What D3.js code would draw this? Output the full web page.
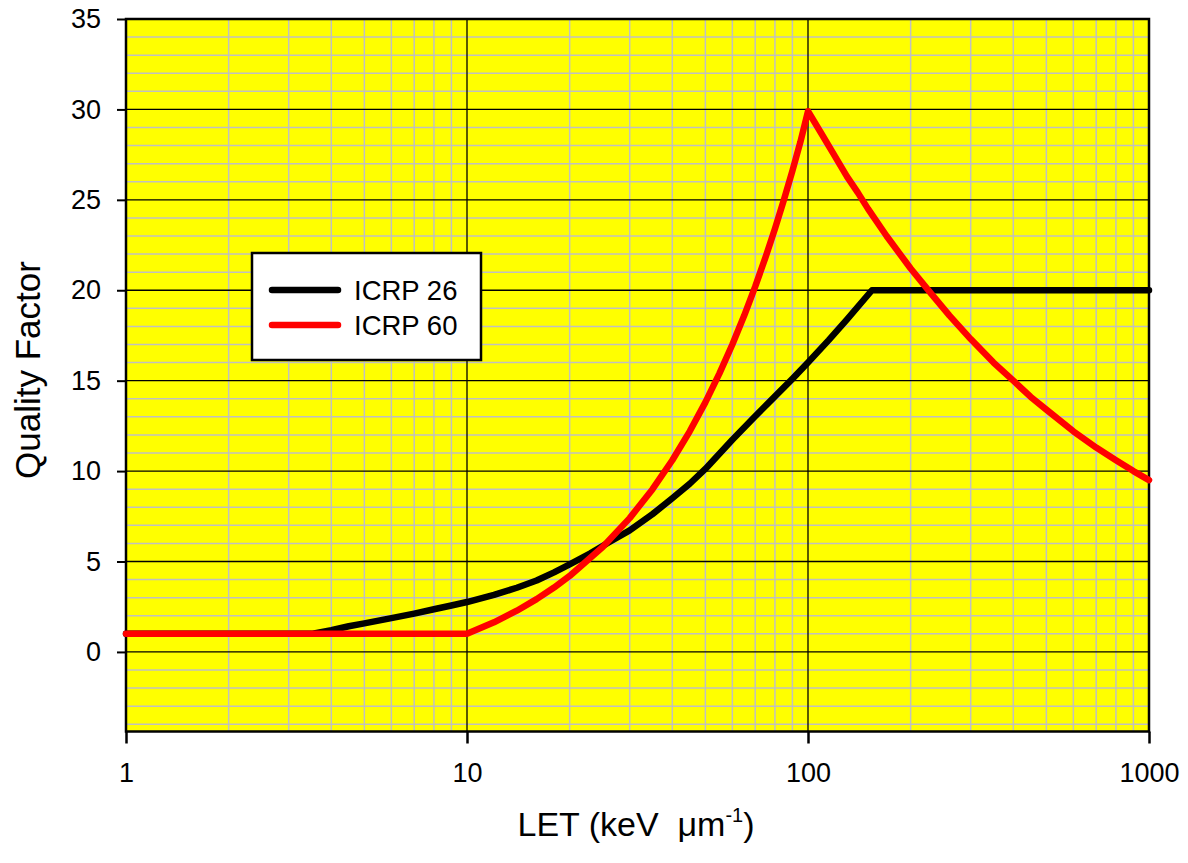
<!DOCTYPE html>
<html>
<head>
<meta charset="utf-8">
<script src="https://cdn.jsdelivr.net/npm/d3@7"></script>
<style>
  html, body { margin: 0; padding: 0; background: #ffffff; }
  svg { display: block; font-family: "Liberation Sans", Arial, sans-serif; }
</style>
</head>
<body>
<svg id="chart" width="1188" height="863"></svg>
<script>
// LET values (keV/µm) and quality factors for the two ICRP recommendations
const icrp26LET = [1, 3.5, 4, 4.5, 5, 6, 7, 8, 9, 10, 12, 14, 16, 18, 20, 23, 26, 30, 35, 40, 45, 50, 60, 70, 80, 90, 100, 115, 130, 154, 1000];
const icrp26Q   = [1, 1, 1.2, 1.42, 1.58, 1.87, 2.12, 2.36, 2.57, 2.76, 3.15, 3.55, 3.95, 4.4, 4.84, 5.45, 6.05, 6.72, 7.62, 8.5, 9.3, 10.12, 11.73, 13.03, 14.13, 15.1, 16.0, 17.24, 18.38, 20, 20];

const icrp60LET = [1, 10, 12, 14, 16, 18, 20, 25, 30, 35, 40, 45, 50, 55, 60, 65, 70, 75, 80, 85, 90, 95, 100,
                   110, 120, 130, 140, 150, 170, 200, 230, 260, 300, 350, 400, 450, 500, 600, 700, 800, 900, 1000];
const icrp60Q   = [1, 1, 1.64, 2.28, 2.92, 3.56, 4.2, 5.8, 7.4, 9.0, 10.6, 12.2, 13.8, 15.4, 17.0, 18.6, 20.2, 21.8, 23.4, 25.0, 26.6, 28.2, 29.9,
                   28.6, 27.4, 26.3, 25.4, 24.5, 23.0, 21.2, 19.8, 18.6, 17.3, 16.0, 15.0, 14.1, 13.4, 12.2, 11.3, 10.6, 10.0, 9.5];

const xTickValues = [1, 10, 100, 1000];
const yTickValues = [0, 5, 10, 15, 20, 25, 30, 35];
const seriesNames = ["ICRP 26", "ICRP 60"];
const seriesColors = ["#000000", "#ff0000"];

const svg = d3.select("#chart");
const plot = { left: 126, right: 1149, top: 19, bottom: 731.5 };

const x = d3.scaleLog().domain([1, 1000]).range([plot.left, plot.right]);
const y = d3.scaleLinear().domain([-4.4, 35]).range([plot.bottom, plot.top]);

// Background
svg.append("rect")
  .attr("x", plot.left).attr("y", plot.top)
  .attr("width", plot.right - plot.left).attr("height", plot.bottom - plot.top)
  .attr("fill", "#ffff00");

const grid = svg.append("g");

// Minor gridlines (grey): every unit in Q, 2..9 within each decade in LET
const minorY = d3.range(-4, 36, 1).filter(v => v % 5 !== 0);
grid.selectAll("line.minor-y").data(minorY).join("line")
  .attr("x1", plot.left).attr("x2", plot.right)
  .attr("y1", d => y(d)).attr("y2", d => y(d))
  .attr("stroke", "#c0c0c0").attr("stroke-width", 1.5);

const minorX = [1, 10, 100].flatMap(dec => d3.range(2, 10).map(m => m * dec));
grid.selectAll("line.minor-x").data(minorX).join("line")
  .attr("y1", plot.top).attr("y2", plot.bottom)
  .attr("x1", d => x(d)).attr("x2", d => x(d))
  .attr("stroke", "#c0c0c0").attr("stroke-width", 1.5);

// Major gridlines (black)
grid.selectAll("line.major-y").data(yTickValues).join("line")
  .attr("x1", plot.left).attr("x2", plot.right)
  .attr("y1", d => y(d)).attr("y2", d => y(d))
  .attr("stroke", "#000").attr("stroke-width", 1.3);

grid.selectAll("line.major-x").data(xTickValues).join("line")
  .attr("y1", plot.top).attr("y2", plot.bottom)
  .attr("x1", d => x(d)).attr("x2", d => x(d))
  .attr("stroke", "#000").attr("stroke-width", 1.3);

// Frame
svg.append("rect")
  .attr("x", plot.left).attr("y", plot.top)
  .attr("width", plot.right - plot.left).attr("height", plot.bottom - plot.top)
  .attr("fill", "none").attr("stroke", "#000").attr("stroke-width", 2.5);

// Axes
const yAxis = d3.axisLeft(y).tickValues(yTickValues).tickSize(9).tickPadding(16).tickFormat(d3.format("d"));
const yg = svg.append("g").attr("transform", `translate(${plot.left},0)`).call(yAxis);
yg.select(".domain").remove();
yg.selectAll(".tick line").attr("stroke", "#000").attr("stroke-width", 2);
yg.selectAll(".tick text").attr("font-size", 27).attr("fill", "#000")
  .attr("font-family", "Liberation Sans, Arial, sans-serif");

const xAxis = d3.axisBottom(x).tickValues(xTickValues).tickSize(12).tickPadding(19).tickFormat(d3.format("d"));
const xg = svg.append("g").attr("transform", `translate(0,${plot.bottom})`).call(xAxis);
xg.select(".domain").remove();
xg.selectAll(".tick line").attr("stroke", "#000").attr("stroke-width", 2.5);
xg.selectAll(".tick text").attr("font-size", 27).attr("fill", "#000")
  .attr("font-family", "Liberation Sans, Arial, sans-serif");

// Axis titles
svg.append("text")
  .attr("transform", "translate(40,370) rotate(-90)")
  .attr("text-anchor", "middle")
  .attr("font-size", 35)
  .text("Quality Factor");

const xt = svg.append("text")
  .attr("x", 636).attr("y", 836)
  .attr("text-anchor", "middle")
  .attr("font-size", 34);
xt.append("tspan").text("LET (keV\u00a0\u00a0\u03bcm");
xt.append("tspan").attr("font-size", 20).attr("dy", -14).text("-1");
xt.append("tspan").attr("dy", 14).text(")");

// Curves
const line = d3.line().x(d => x(d[0])).y(d => y(d[1]));
const series = [
  d3.zip(icrp26LET, icrp26Q),
  d3.zip(icrp60LET, icrp60Q)
];
svg.append("g").selectAll("path").data(series).join("path")
  .attr("d", d => line(d))
  .attr("fill", "none")
  .attr("stroke", (d, i) => seriesColors[i])
  .attr("stroke-width", 6.5)
  .attr("stroke-linejoin", "round")
  .attr("stroke-linecap", "round");

// Legend
const legend = svg.append("g");
legend.append("rect")
  .attr("x", 252).attr("y", 253).attr("width", 229).attr("height", 107)
  .attr("fill", "#fff").attr("stroke", "#000").attr("stroke-width", 2.5);
const items = legend.selectAll("g.item").data(seriesNames).join("g")
  .attr("transform", (d, i) => `translate(0,${290 + i * 35})`);
items.append("line")
  .attr("x1", 272).attr("x2", 338).attr("y1", 0).attr("y2", 0)
  .attr("stroke", (d, i) => seriesColors[i]).attr("stroke-width", 6.5)
  .attr("stroke-linecap", "round");
items.append("text")
  .attr("x", 354).attr("y", 10)
  .attr("font-size", 27.5)
  .text(d => d);
</script>
</body>
</html>
